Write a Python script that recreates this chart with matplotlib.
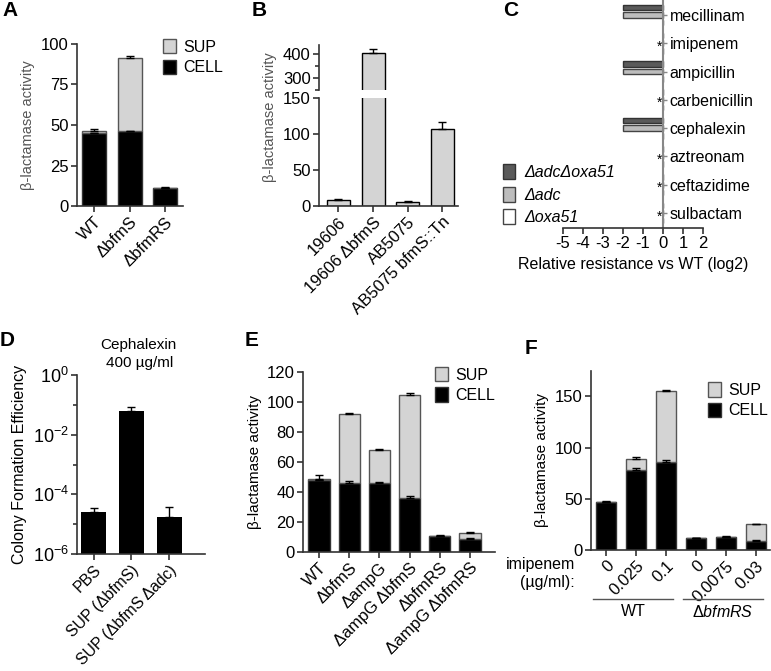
import numpy as np
import matplotlib
matplotlib.use('Agg')
import matplotlib.pyplot as plt
import matplotlib.transforms as mtransforms
from matplotlib.patches import Patch

plt.rcParams['font.family'] = ['Liberation Sans', 'DejaVu Sans']
plt.rcParams['mathtext.fontset'] = 'custom'
plt.rcParams['mathtext.rm'] = 'Liberation Sans'
plt.rcParams['mathtext.it'] = 'Liberation Sans:italic'
plt.rcParams['font.size'] = 12
plt.rcParams['axes.linewidth'] = 1.2
plt.rcParams['axes.edgecolor'] = '#333333'
plt.rcParams['xtick.color'] = '#333333'
plt.rcParams['ytick.color'] = '#333333'
plt.rcParams['xtick.labelcolor'] = 'black'
plt.rcParams['ytick.labelcolor'] = 'black'
plt.rcParams['xtick.labelsize'] = 12
plt.rcParams['ytick.labelsize'] = 12

# A - beta-lactamase, SUP vs CELL
a_labels = ['WT', 'ΔbfmS', 'ΔbfmRS']
a_cell = [45.0, 46.0, 11.3]
a_cell_err = [0.0, 0.5, 0.0]
a_sup = [1.5, 45.3, 0.0]
a_total_err = [1.2, 1.6, 0.3]

# B - strains
b_labels = ['19606', '19606 ΔbfmS', 'AB5075', 'AB5075 bfmS::Tn']
b_vals = [8.5, 405.0, 5.5, 107.5]
b_err = [1.0, 20.0, 2.0, 9.5]

# C - relative resistance (log2)
c_drugs = ['mecillinam', 'imipenem', 'ampicillin', 'carbenicillin',
           'cephalexin', 'aztreonam', 'ceftazidime', 'sulbactam']
c_adc_oxa = [-2, 0, -2, 0, -2, 0, 0, 0]
c_adc = [-2, 0, -2, 0, -2, 0, 0, 0]
c_oxa = [0, 0, 0, 0, 0, 0, 0, 0]

# D - colony formation efficiency
d_labels = ['PBS', 'SUP (ΔbfmS)', 'SUP (ΔbfmS Δadc)']
d_vals = [2.5e-5, 0.064, 1.7e-5]
d_err_top = [3.6e-5, 0.087, 3.9e-5]

# E
e_labels = ['WT', 'ΔbfmS', 'ΔampG', 'ΔampG ΔbfmS', 'ΔbfmRS', 'ΔampG ΔbfmRS']
e_cell = [48.0, 46.0, 46.0, 36.0, 10.5, 8.7]
e_cell_err = [0.0, 1.6, 0.8, 1.5, 0.0, 0.5]
e_sup = [0.8, 46.0, 22.0, 69.0, 0.2, 3.8]
e_total_err = [2.2, 1.0, 0.7, 1.0, 0.3, 0.7]

# F - imipenem induction
f_doses = ['0', '0.025', '0.1', '0', '0.0075', '0.03']
f_cell = [46.5, 78.5, 86.0, 11.3, 12.3, 9.0]
f_cell_err = [0.0, 1.2, 2.2, 0.0, 0.5, 0.3]
f_sup = [0.6, 10.8, 69.0, 0.1, 0.7, 16.0]
f_total_err = [0.8, 1.0, 0.7, 0.3, 0.8, 0.6]

SUPC = '#d4d4d4'
W, H = 771, 671
fig = plt.figure(figsize=(W / 100, H / 100), dpi=100)


def px_axes(l, t, r, b):
    return fig.add_axes([l / W, 1 - b / H, (r - l) / W, (b - t) / H])


def style(ax):
    for s in ['top', 'right']:
        ax.spines[s].set_visible(False)
    ax.tick_params(direction='out', length=4, width=1.2, pad=2)


def rot_labels(ax, labels, size=12):
    ax.set_xticks(np.arange(len(labels)))
    ax.set_xticklabels(labels, rotation=45, ha='right', rotation_mode='anchor', fontsize=size)


def stacked(ax, cell, sup, cell_err, tot_err, width):
    x = np.arange(len(cell))
    cell = np.array(cell)
    sup = np.array(sup)
    ax.bar(x, cell, width, color='black', edgecolor='#333333', lw=1, zorder=2)
    ax.bar(x, sup, width, bottom=cell, color=SUPC, edgecolor='#555555', lw=1, zorder=2)
    z = np.zeros(len(x))
    ax.errorbar(x, cell, yerr=[z, cell_err], fmt='none', ecolor='black', elinewidth=1,
                capsize=3, capthick=1, zorder=3)
    ax.errorbar(x, cell + sup, yerr=[z, tot_err], fmt='none', ecolor='black', elinewidth=1,
                capsize=3, capthick=1, zorder=3)


def sup_legend(ax, x, y):
    h = [Patch(facecolor=SUPC, edgecolor='#555555'), Patch(facecolor='black', edgecolor='#333333')]
    ax.legend(h, ['SUP', 'CELL'], loc='upper left', bbox_to_anchor=(x, y), frameon=False,
              borderpad=0, borderaxespad=0, handlelength=0.8, handleheight=1.0,
              handletextpad=0.45, labelspacing=0.3, fontsize=11.5)


# ---- A
ax = px_axes(77, 44, 183, 206)
stacked(ax, a_cell, a_sup, a_cell_err, a_total_err, 0.68)
ax.set_xlim(-0.48, 2.5)
ax.set_ylim(0, 100)
ax.set_yticks([0, 25, 50, 75, 100])
rot_labels(ax, a_labels)
ax.set_ylabel('β-lactamase activity', color='#555555', fontsize=10.5)
style(ax)
sup_legend(ax, 0.81, 1.03)

# ---- B (broken axis)
axb = px_axes(319, 98, 458, 206)
axt = px_axes(319, 45, 458, 90)
xb = np.arange(len(b_vals))
for a in (axb, axt):
    a.bar(xb, b_vals, 0.66, color=SUPC, edgecolor='black', lw=1, zorder=2)
    a.errorbar(xb, b_vals, yerr=[np.zeros(len(xb)), b_err], fmt='none', ecolor='black',
               elinewidth=1, capsize=3, capthick=1, zorder=3)
    a.set_xlim(-0.56, 3.45)
    style(a)
axb.set_ylim(0, 150)
axb.set_yticks([0, 50, 100, 150])
rot_labels(axb, b_labels)
axt.set_ylim(250, 440)
axt.set_yticks([300, 400])
axt.set_yticks([250, 350], minor=True)
axt.tick_params(which='minor', length=3, width=1.2)
axt.spines['bottom'].set_visible(False)
axt.set_xticks([])
axb.set_ylabel('β-lactamase activity', color='#555555', fontsize=10.5)
axb.yaxis.set_label_coords(-0.30, 0.82)

# ---- C
ax = px_axes(562.7, 0, 703, 228)
yc = np.arange(len(c_drugs))
ax.barh(yc - 0.27, c_adc_oxa, 0.2, color='#5a5a5a', edgecolor='#333333', lw=1)
ax.barh(yc, c_adc, 0.2, color='#bdbdbd', edgecolor='#444444', lw=1)
ax.barh(yc + 0.27, c_oxa, 0.2, color='white', edgecolor='#444444', lw=1)
for i in range(len(c_drugs)):
    if c_adc_oxa[i] == 0 and c_adc[i] == 0 and c_oxa[i] == 0:
        ax.text(-0.17, yc[i] + 0.12, '*', ha='center', va='center', fontsize=10)
ax.set_xlim(-5, 2)
ax.set_ylim(7.53, -0.53)
ax.spines['left'].set_visible(False)
ax.spines['top'].set_visible(False)
ax.spines['right'].set_position(('data', 0))
ax.spines['right'].set_color('#888888')
ax.spines['right'].set_linewidth(1.5)
ax.yaxis.tick_right()
ax.set_yticks(yc)
ax.set_yticklabels(c_drugs, fontsize=11.5)
ax.tick_params(axis='y', length=3, width=1, color='#888888', pad=2)
ax.tick_params(axis='x', direction='out', length=4, width=1.2, pad=2)
ax.set_xticks(range(-5, 3))
ax.set_xticklabels([str(v) for v in range(-5, 3)], fontsize=12)
ax.set_xlabel('Relative resistance vs WT (log2)', fontsize=11.5)
hc = [Patch(facecolor='#5a5a5a', edgecolor='#333333'), Patch(facecolor='#bdbdbd', edgecolor='#444444'),
      Patch(facecolor='white', edgecolor='#444444')]
ax.legend(hc, ['ΔadcΔoxa51', 'Δadc', 'Δoxa51'], loc='upper left',
          bbox_to_anchor=(-0.425, 0.28), frameon=False, borderpad=0, borderaxespad=0,
          handlelength=0.75, handleheight=1.1, handletextpad=0.6, labelspacing=0.4,
          prop={'size': 11.5, 'style': 'italic'})

# ---- D
ax = px_axes(77, 375, 205, 554)
xd = np.arange(len(d_vals))
ax.bar(xd, np.array(d_vals) - 1e-6, 0.66, bottom=1e-6, color='black', zorder=2)
ax.errorbar(xd, d_vals, yerr=[np.zeros(len(xd)), np.array(d_err_top) - np.array(d_vals)],
            fmt='none', ecolor='black', elinewidth=1, capsize=3, capthick=1, zorder=3)
ax.set_yscale('log')
ax.set_ylim(1e-6, 1)
ax.set_xlim(-0.44, 2.95)
ax.set_yticks([1e-6, 1e-4, 1e-2, 1])
ax.set_yticklabels([r'$10^{-6}$', r'$10^{-4}$', r'$10^{-2}$', r'$10^{0}$'], fontsize=13)
ax.set_yticks([1e-5, 1e-3, 1e-1], minor=True)
ax.set_yticklabels([], minor=True)
ax.tick_params(which='minor', length=3, width=1.2)
rot_labels(ax, d_labels, size=11.3)
ax.set_ylabel('Colony Formation Efficiency', fontsize=11.5)
style(ax)
fig.text(138 / W, 1 - 345 / H, 'Cephalexin', ha='center', va='center', fontsize=11)
fig.text(140 / W, 1 - 363 / H, '400 µg/ml', ha='center', va='center', fontsize=11)

# ---- E
ax = px_axes(303.3, 372.3, 495, 551.7)
stacked(ax, e_cell, e_sup, e_cell_err, e_total_err, 0.7)
ax.set_xlim(-0.52, 5.83)
ax.set_ylim(0, 120)
ax.set_yticks(range(0, 121, 20))
rot_labels(ax, e_labels)
ax.set_ylabel('β-lactamase activity', fontsize=11)
style(ax)
sup_legend(ax, 0.687, 1.03)

# ---- F
ax = px_axes(591, 370.7, 770, 550)
stacked(ax, f_cell, f_sup, f_cell_err, f_total_err, 0.67)
ax.set_xlim(-0.5, 5.47)
ax.set_ylim(0, 175)
ax.set_yticks([0, 50, 100, 150])
rot_labels(ax, f_doses)
ax.set_ylabel('β-lactamase activity', fontsize=11)
style(ax)
sup_legend(ax, 0.655, 0.935)
tr = mtransforms.blended_transform_factory(ax.transData, ax.transAxes)
for (x0, x1, lab) in [(-0.43, 2.23, 'WT'), (2.57, 5.23, r'Δ$\it{bfmRS}$')]:
    ax.plot([x0, x1], [-0.273, -0.273], transform=tr, clip_on=False, color='#555555', lw=1)
    ax.text((x0 + x1) / 2, -0.3, lab, transform=tr, ha='center', va='top', fontsize=11.5)
fig.text(575 / W, 1 - 573 / H, 'imipenem\n(µg/ml):', ha='right', va='center',
         multialignment='right', fontsize=11.5, linespacing=1.25)

# panel letters
for lab, x, y in [('A', 2, 11), ('B', 252, 11), ('C', 503, 11),
                  ('D', 0, 341), ('E', 245, 341), ('F', 525, 348)]:
    fig.text(x / W, 1 - y / H, lab, fontsize=15, fontweight='bold', va='center', ha='left')

fig.savefig('out.png', dpi=100)
